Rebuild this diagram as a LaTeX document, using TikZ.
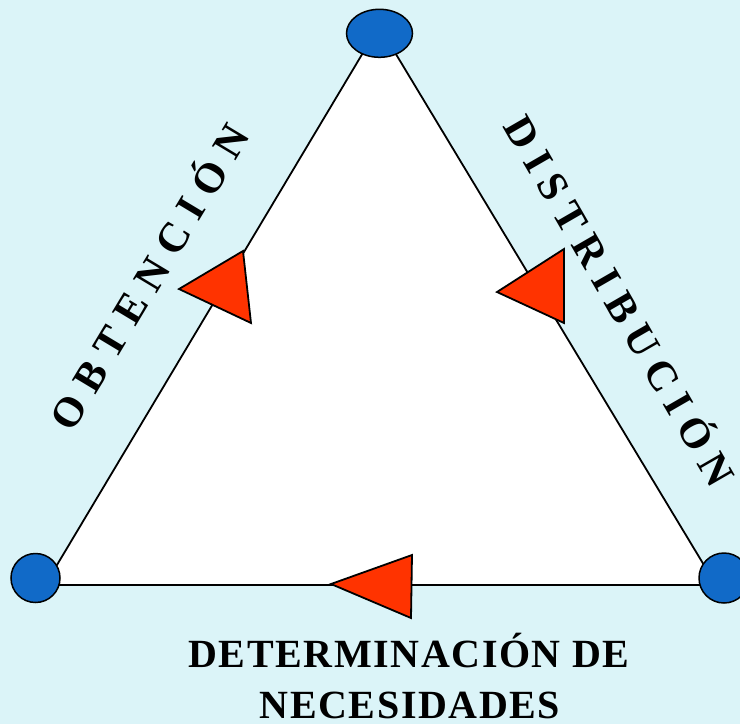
\documentclass[tikz,border=0pt]{standalone}
\usepackage{fontspec}
\setmainfont{Liberation Serif}
\usetikzlibrary{shapes.geometric}
\definecolor{bgcyan}{RGB}{219,244,248}
\definecolor{vertexblue}{RGB}{17,106,200}
\definecolor{arrowred}{RGB}{255,51,0}
\tikzstyle{vertex}=[ellipse, fill=vertexblue, draw=black, line width=1.5pt, inner sep=0pt]
\tikzstyle{flow}=[fill=arrowred, draw=black, line width=1.8pt, line join=miter]
\tikzstyle{side}=[font=\fontsize{42}{42}\selectfont\bfseries, text height=28pt, text depth=0pt, inner sep=0pt]
\tikzstyle{caption}=[font=\fontsize{40}{51}\selectfont\bfseries\addfontfeature{LetterSpace=4}, inner sep=0pt, anchor=base]

\begin{document}
\begin{tikzpicture}[x=1pt, y=-1pt]
	\fill[bgcyan] (0,0) rectangle (740,724);
	\useasboundingbox (0,0) rectangle (740,724);

	\coordinate (ptop) at (379,26);
	\coordinate (pleft) at (45,585);
	\coordinate (pright) at (716,585);
	\filldraw[fill=white, draw=black, line width=1.8pt] (pleft) -- (ptop) -- (pright) -- cycle;

	\node[vertex, minimum width=66pt, minimum height=48pt](top) at (379.5,33.3){};
	\node[vertex, minimum size=49pt](left) at (35.5,578){};
	\node[vertex, minimum size=50pt](right) at (724,578){};

	% flow markers
	\filldraw[flow] (179,289) -- (243,251) -- (251,323) -- cycle;
	\filldraw[flow] (497,292) -- (564,249) -- (564,323) -- cycle;
	\filldraw[flow] (331,584) -- (412,555) -- (411,618) -- cycle;

	\node[side, rotate=59](obtencion) at (150,277){\addfontfeature{LetterSpace=27}OBTENCIÓN};
	\node[side, rotate=-60](distribucion) at (619,301){\addfontfeature{LetterSpace=23}DISTRIBUCIÓN};

	\node[caption](determinacion) at (409,667){DETERMINACIÓN DE};
	\node[caption](necesidades) at (410,718){NECESIDADES};

\end{tikzpicture}
\end{document}
